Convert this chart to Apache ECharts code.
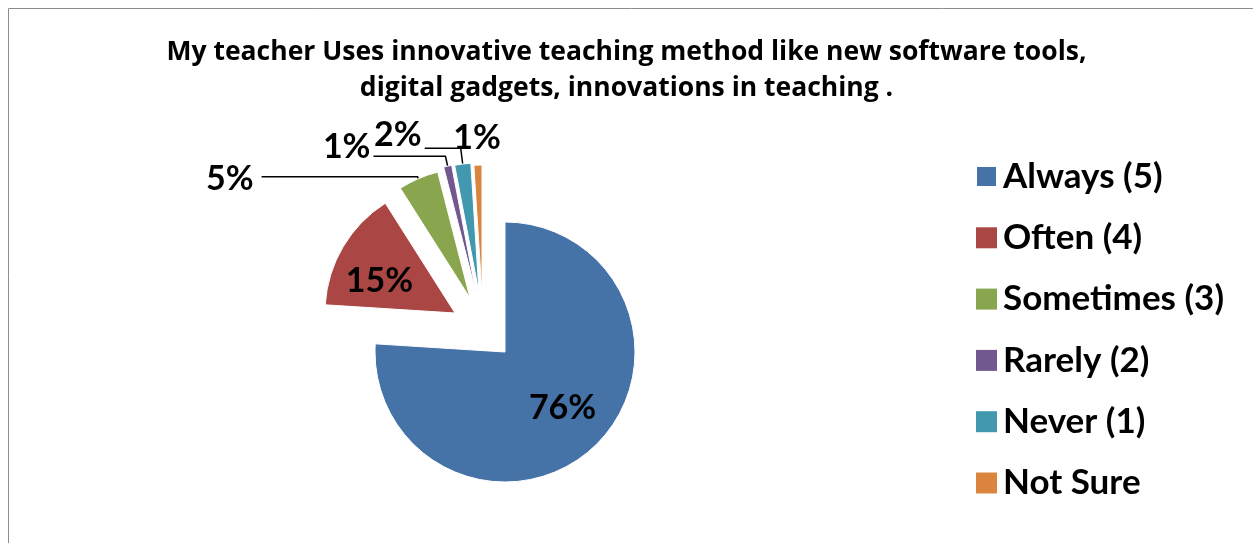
<!DOCTYPE html>
<html>
<head>
<meta charset="utf-8">
<script src="https://cdn.jsdelivr.net/npm/echarts@6/dist/echarts.min.js"></script>
<style>
html,body{margin:0;padding:0;background:#fff;}
#chart{width:1253px;height:543px;}
</style>
</head>
<body>
<div id="chart"></div>
<script>
// ---- data ----
const categories = ['Always (5)', 'Often (4)', 'Sometimes (3)', 'Rarely (2)', 'Never (1)', 'Not Sure'];
const percentValues = [76, 15, 5, 1, 2, 1];
const titleLines = ['My teacher Uses innovative teaching method like new software tools,', 'digital gadgets, innovations in teaching .'];

// ---- styling / layout ----
const colors = ['#4572A7', '#AA4643', '#89A54E', '#71588F', '#4198AF', '#DB843D'];
const sliceCenters = [[505, 352], [455, 313], [470, 298], [476, 293], [479, 293], [482, 295]];
const FONT = 'Lato';
const TITLE_FONT = 'Open Sans';

const labelCfg = [
  { position: 'inside', dx: 11, dy: 6 },
  { position: 'inside', dx: -17, dy: 3 },
  { position: 'outside', length: 2, length2: 156, line: true, dx: -5, dy: 2 },
  { position: 'outside', length: 10, length2: 72, line: true, dx: 0, dy: -9 },
  { position: 'outside', length: 16, length2: 36, line: true, dx: 0, dy: -13 },
  { position: 'outside', length: 0, length2: 0, line: false, dx: 26, dy: -27 }
];

const series = categories.map((_, i) => {
  const cfg = labelCfg[i];
  return {
    type: 'pie',
    silent: true,
    center: sliceCenters[i],
    radius: 130,
    startAngle: 90,
    clockwise: true,
    animation: false,
    avoidLabelOverlap: false,
    labelLayout: { dx: cfg.dx, dy: cfg.dy },
    data: categories.map((name, j) => ({
      name: name,
      value: percentValues[j],
      itemStyle: j === i
        ? { color: colors[j], borderColor: '#fff', borderWidth: 1 }
        : { color: 'rgba(0,0,0,0)', borderWidth: 0 },
      label: {
        show: j === i,
        position: cfg.position,
        formatter: '{d}%',
        fontFamily: FONT,
        fontWeight: 'bold',
        fontSize: 34,
        color: '#000',
        distanceToLabelLine: 3
      },
      labelLine: {
        show: j === i && !!cfg.line,
        length: cfg.length || 0,
        length2: cfg.length2 || 0,
        lineStyle: { color: '#000', width: 1.5 }
      }
    }))
  };
});

const chart = echarts.init(document.getElementById('chart'), null, { renderer: 'canvas' });
chart.setOption({
  backgroundColor: '#fff',
  animation: false,
  graphic: [{
    type: 'rect', shape: { x: 8.5, y: 8.5, width: 1400, height: 800 },
    style: { fill: 'none', stroke: '#8c8c8c', lineWidth: 1 }, silent: true
  }],
  title: titleLines.map((t, i) => ({
    text: t,
    left: 'center',
    top: 35 + i * 36,
    padding: 0,
    textStyle: { fontFamily: TITLE_FONT, fontWeight: 'bold', fontSize: 26.5, lineHeight: 34, color: '#000' }
  })),
  legend: {
    orient: 'vertical',
    left: 970,
    top: 154,
    icon: 'rect',
    itemWidth: 21,
    itemHeight: 21,
    itemGap: 26.3,
    selectedMode: false,
    textStyle: { fontFamily: FONT, fontWeight: 'bold', fontSize: 35, lineHeight: 30, color: '#000', padding: [0, 0, 0, 1] },
    data: categories.map((n, i) => ({ name: n, itemStyle: { color: colors[i] } }))
  },
  series: series
});
</script>
</body>
</html>
